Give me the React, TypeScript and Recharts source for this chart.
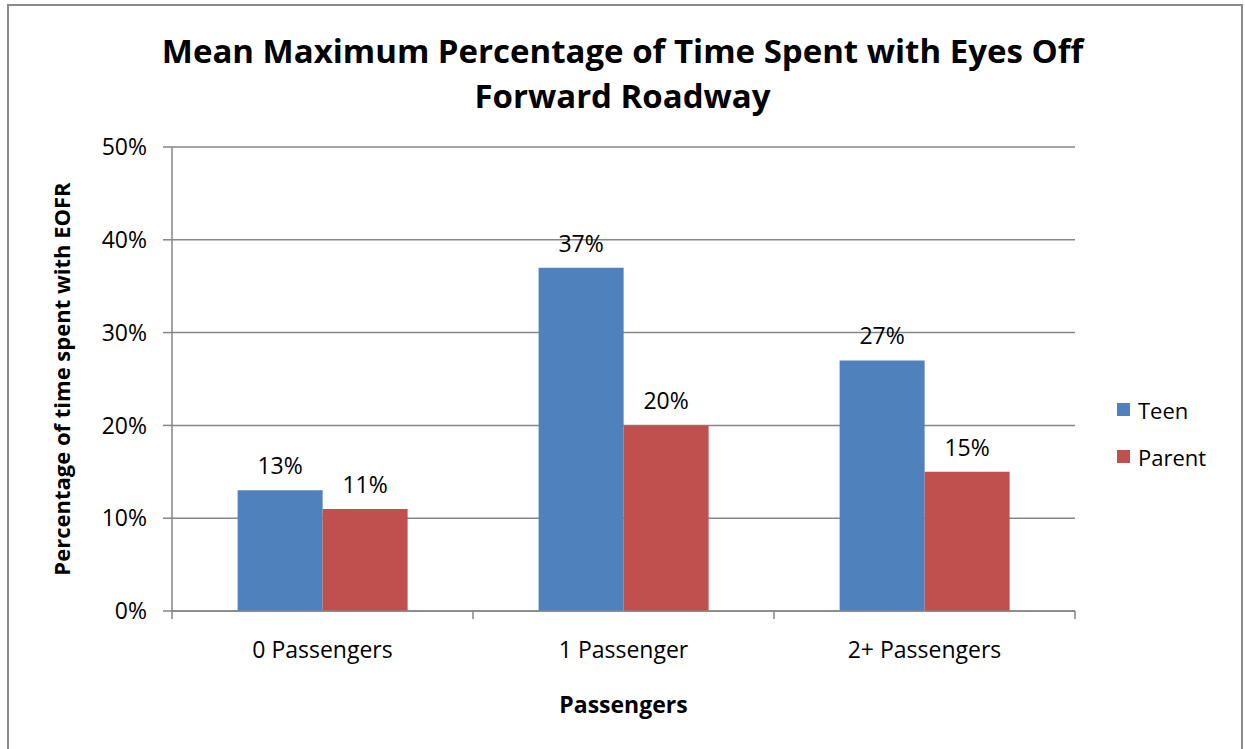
import React from "react";
import {
	BarChart,
	Bar,
	XAxis,
	YAxis,
	CartesianGrid,
	LabelList,
	Label,
} from "recharts";

const categories = ["0 Passengers", "1 Passenger", "2+ Passengers"];
const teen = [13, 37, 27];
const parent = [11, 20, 15];
const yTicks = [0, 10, 20, 30, 40, 50];

const COLORS = { teen: "#4F81BD", parent: "#C0504D" };
const GRID = "#868686";
const FONT = "'Open Sans', sans-serif";

const data = categories.map((name, i) => ({
	name,
	Teen: teen[i],
	Parent: parent[i],
}));

const W = 1245;
const H = 749;
const MARGIN = { top: 147, right: 170, bottom: 29, left: 52 };
const Y_AXIS_W = 120;
const X_TICK_MARGIN = 31;
const BAND = (W - MARGIN.left - MARGIN.right - Y_AXIS_W) / categories.length;

// category label plus the small tick marks that sit between categories
const CategoryTick = (props: any) => {
	const { x, y, payload, index } = props;
	const axisY = y - X_TICK_MARGIN;
	const left = x - BAND / 2;
	const right = x + BAND / 2;
	return (
		<g>
			<line x1={left} y1={axisY} x2={left} y2={axisY + 8} stroke={GRID} strokeWidth={1.5} />
			{index === categories.length - 1 && (
				<line x1={right} y1={axisY} x2={right} y2={axisY + 8} stroke={GRID} strokeWidth={1.5} />
			)}
			<text
				x={x}
				y={y}
				dy="0.71em"
				textAnchor="middle"
				fill="#000"
				fontSize={23}
				fontFamily={FONT}>
				{payload.value}
			</text>
		</g>
	);
};

const legendItems = [
	{ label: "Teen", color: COLORS.teen },
	{ label: "Parent", color: COLORS.parent },
];

const valueLabelStyle = { fill: "#000", fontSize: 23, fontFamily: FONT };

export default function App() {
	return (
		<div
			style={{
				position: "absolute",
				left: 0,
				top: 0,
				width: W,
				height: H,
				background: "#fff",
				overflow: "hidden",
			}}>
			<div
				style={{
					position: "absolute",
					left: 7,
					top: 4,
					width: 1232,
					height: 800,
					border: "2px solid #8a8a8a",
				}}
			/>
			<div
				style={{
					position: "absolute",
					left: 0,
					top: 28,
					width: W,
					textAlign: "center",
					fontFamily: FONT,
					fontWeight: 700,
					fontSize: 33,
					lineHeight: "45px",
					color: "#000",
				}}>
				Mean Maximum Percentage of Time Spent with Eyes Off
				<br />
				Forward Roadway
			</div>
			<div
				style={{
					position: "absolute",
					left: 1117,
					top: 386,
					fontFamily: FONT,
					fontSize: 22,
					color: "#000",
				}}>
				{legendItems.map((item) => (
					<div
						key={item.label}
						style={{ display: "flex", alignItems: "center", height: 47 }}>
						<span
							style={{
								display: "inline-block",
								width: 13,
								height: 13,
								background: item.color,
								marginRight: 8,
							}}
						/>
						<span>{item.label}</span>
					</div>
				))}
			</div>
			<BarChart
				width={W}
				height={H}
				data={data}
				margin={MARGIN}
				barCategoryGap="21.8%"
				barGap={0}
				style={{ position: "absolute", left: 0, top: 0 }}>
				<CartesianGrid vertical={false} stroke={GRID} strokeWidth={1.5} />
				<XAxis
					dataKey="name"
					axisLine={{ stroke: GRID, strokeWidth: 1.5 }}
					tickLine={false}
					tickSize={0}
					tickMargin={X_TICK_MARGIN}
					height={109}
					tick={<CategoryTick />}>
					<Label
						value="Passengers"
						position="insideBottom"
						offset={7}
						style={{
							fill: "#000",
							fontSize: 23,
							fontWeight: 700,
							fontFamily: FONT,
						}}
					/>
				</XAxis>
				<YAxis
					domain={[0, 50]}
					ticks={yTicks}
					tickFormatter={(v) => `${v}%`}
					axisLine={{ stroke: GRID, strokeWidth: 1.5 }}
					tickLine={{ stroke: GRID, strokeWidth: 1.5 }}
					tickSize={9}
					tickMargin={16}
					width={Y_AXIS_W}
					tick={{ fill: "#000", fontSize: 23, fontFamily: FONT }}>
					<Label
						value="Percentage of time spent with EOFR"
						angle={-90}
						position="insideLeft"
						offset={10}
						style={{
							textAnchor: "middle",
							fill: "#000",
							fontSize: 22,
							fontWeight: 700,
							fontFamily: FONT,
						}}
					/>
				</YAxis>
				<Bar dataKey="Teen" fill={COLORS.teen} isAnimationActive={false}>
					<LabelList
						dataKey="Teen"
						position="top"
						offset={16}
						formatter={(v: any) => `${v}%`}
						style={valueLabelStyle}
					/>
				</Bar>
				<Bar dataKey="Parent" fill={COLORS.parent} isAnimationActive={false}>
					<LabelList
						dataKey="Parent"
						position="top"
						offset={16}
						formatter={(v: any) => `${v}%`}
						style={valueLabelStyle}
					/>
				</Bar>
			</BarChart>
		</div>
	);
}
